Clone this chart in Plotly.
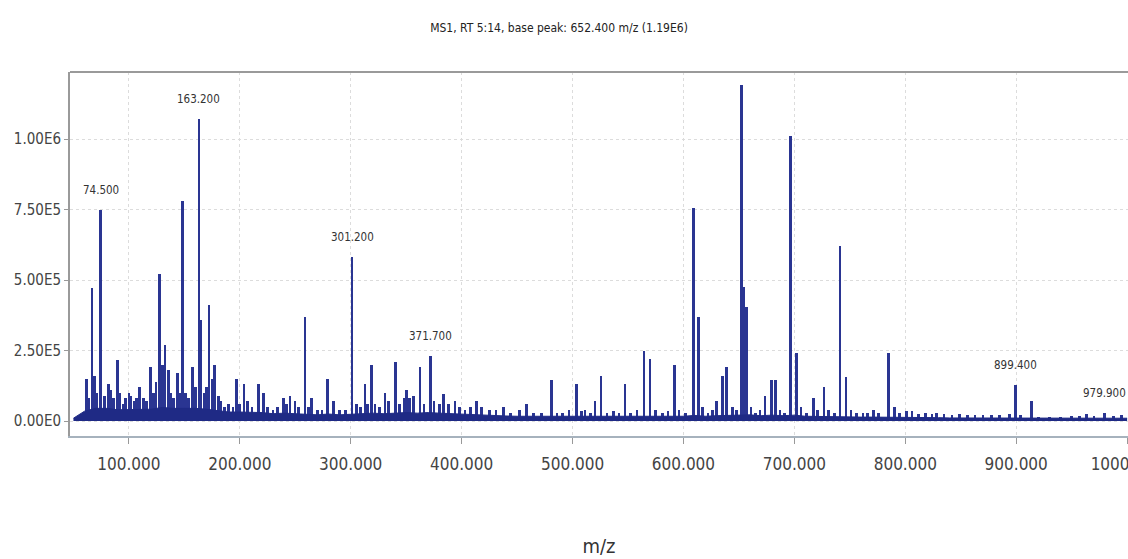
import plotly.graph_objects as go

# Centroided peaks of the MS1 scan (m/z, intensity)
peak_mz = [
    62.0, 64.0, 66.7, 69.0, 71.0, 74.5, 78.0, 81.4, 84.0, 86.0, 89.8, 92.0, 95.0, 97.0,
    100.0, 102.0, 105.0, 107.0, 109.3, 113.0, 116.0, 119.6, 122.0, 124.4, 127.4, 130.0,
    132.5, 135.5, 138.0, 140.0, 143.6, 146.0, 148.4, 151.0, 154.0, 157.5, 160.0, 163.2,
    165.0, 168.0, 170.0, 172.2, 175.0, 177.0, 180.6, 183.0, 186.0, 190.0, 194.0, 197.2,
    200.0, 203.7, 207.0, 211.0, 216.6, 221.1, 225.0, 230.0, 234.0, 239.2, 242.0, 245.2,
    249.7, 253.0, 258.7, 262.0, 264.8, 270.0, 274.0, 278.9, 284.3, 290.0, 295.0, 301.2,
    305.0, 309.0, 312.8, 315.0, 318.9, 322.0, 326.0, 330.9, 334.0, 340.5, 344.0, 348.0,
    350.4, 353.0, 356.4, 362.4, 366.0, 371.7, 375.0, 380.0, 383.4, 388.0, 394.0, 398.0,
    403.0, 408.0, 413.5, 418.0, 425.0, 431.0, 437.6, 444.0, 452.0, 458.6, 465.0, 472.0,
    481.2, 486.0, 491.0, 496.8, 503.7, 508.0, 511.2, 516.0, 520.2, 525.6, 531.0, 537.0,
    542.0, 547.3, 552.0, 558.0, 564.4, 569.8, 575.0, 581.0, 586.0, 591.8, 596.0, 602.0,
    608.9, 613.4, 617.0, 622.0, 626.0, 630.0, 635.4, 639.0, 644.0, 648.0, 652.4, 654.3,
    657.0, 661.0, 665.0, 669.0, 673.5, 679.6, 683.2, 687.0, 691.0, 696.7, 702.1, 706.0,
    711.0, 717.1, 721.0, 726.7, 731.0, 736.0, 741.2, 746.6, 751.0, 756.0, 762.0, 766.0,
    771.2, 776.0, 784.8, 790.0, 795.0, 801.3, 806.0, 812.0, 818.0, 824.0, 828.4, 835.0,
    842.0, 849.0, 856.0, 863.0, 870.0, 878.0, 885.0, 894.0, 899.4, 904.0, 914.0, 920.0,
    930.0, 940.0, 950.0, 957.0, 963.6, 970.0, 979.9, 988.0, 995.0,
]
peak_int = [
    150000, 80000, 470000, 160000, 100000, 750000, 90000, 130000, 110000, 80000, 216000, 100000, 60000, 80000,
    100000, 90000, 70000, 80000, 120000, 80000, 70000, 190000, 100000, 140000, 520000, 200000,
    270000, 180000, 100000, 80000, 170000, 100000, 780000, 100000, 80000, 190000, 120000, 1070000,
    360000, 100000, 120000, 410000, 150000, 200000, 90000, 70000, 50000, 60000, 50000, 150000,
    60000, 130000, 70000, 50000, 130000, 100000, 50000, 40000, 50000, 80000, 60000, 90000,
    70000, 50000, 370000, 50000, 80000, 40000, 40000, 150000, 70000, 40000, 40000, 580000,
    60000, 50000, 130000, 60000, 200000, 60000, 50000, 100000, 70000, 210000, 60000, 80000,
    110000, 80000, 90000, 190000, 60000, 230000, 70000, 60000, 95000, 60000, 70000, 50000,
    40000, 50000, 70000, 50000, 40000, 40000, 50000, 30000, 40000, 60000, 30000, 30000,
    145000, 30000, 30000, 40000, 130000, 35000, 40000, 30000, 70000, 160000, 30000, 35000,
    30000, 130000, 30000, 40000, 250000, 220000, 40000, 30000, 35000, 200000, 40000, 30000,
    755000, 370000, 50000, 30000, 40000, 70000, 160000, 190000, 50000, 40000, 1190000, 475000,
    405000, 50000, 30000, 40000, 90000, 145000, 145000, 40000, 30000, 1010000, 240000, 50000,
    30000, 80000, 40000, 120000, 40000, 30000, 620000, 157000, 40000, 30000, 30000, 30000,
    40000, 30000, 242000, 50000, 30000, 35000, 35000, 25000, 30000, 25000, 30000, 25000,
    20000, 25000, 20000, 20000, 20000, 20000, 20000, 25000, 128000, 20000, 70000, 15000,
    15000, 15000, 18000, 18000, 25000, 18000, 30000, 18000, 20000,
]

# Unresolved background level under the peaks
bg_mz = [
    50, 60, 70, 80, 90, 100, 110, 120, 130, 140, 150, 160, 170, 180, 190, 200, 210, 220,
    230, 240, 250, 260, 270, 280, 290, 300, 310, 320, 330, 340, 350, 360, 370, 380, 390,
    400, 410, 420, 430, 440, 450, 460, 470, 480, 490, 500, 510, 520, 530, 540, 550, 560,
    570, 580, 590, 600, 610, 620, 630, 640, 650, 660, 670, 680, 690, 700, 710, 720, 730,
    740, 750, 760, 770, 780, 790, 800, 810, 820, 830, 840, 850, 860, 870, 880, 890, 900,
    910, 920, 930, 940, 950, 960, 970, 980, 990, 1000,
]
bg_int = [
    10000, 35000, 45000, 45000, 40000, 40000, 40000, 42000, 48000, 45000, 45000, 45000,
    42000, 38000, 32000, 32000, 32000, 30000, 26000, 28000, 26000, 24000, 22000, 25000,
    22000, 24000, 26000, 28000, 26000, 28000, 30000, 28000, 30000, 28000, 26000, 24000,
    22000, 22000, 18000, 18000, 17000, 17000, 15000, 17000, 15000, 17000, 17000, 17000,
    15000, 15000, 15000, 17000, 17000, 17000, 17000, 17000, 20000, 17000, 19000, 20000,
    22000, 22000, 19000, 21000, 19000, 21000, 17000, 16000, 16000, 16000, 14000, 14000,
    14000, 14000, 14000, 13000, 12000, 12000, 12000, 11000, 11000, 11000, 10000, 10000,
    10000, 10000, 10000, 10000, 10000, 10000, 10000, 10000, 10000, 10000, 10000, 10000,
]

# Peaks that carry an m/z label
label_mz = [74.5, 163.2, 301.2, 371.7, 899.4, 979.9]
label_int = [750000, 1070000, 580000, 230000, 128000, 30000]
label_txt = ["74.500", "163.200", "301.200", "371.700", "899.400", "979.900"]

x_ticks = [100, 200, 300, 400, 500, 600, 700, 800, 900, 1000]
x_tick_txt = ["100.000", "200.000", "300.000", "400.000", "500.000",
              "600.000", "700.000", "800.000", "900.000", "1000.000"]
y_ticks = [0, 250000, 500000, 750000, 1000000]
y_tick_txt = ["0.00E0", "2.50E5", "5.00E5", "7.50E5", "1.00E6"]

NARROW = "Liberation Sans Narrow, Arial Narrow, DejaVu Sans Condensed, Liberation Sans, sans-serif"
BLUE = "#2a3592"

fig = go.Figure()
fig.add_trace(go.Scatter(
    x=bg_mz, y=bg_int, mode="lines", fill="tozeroy",
    line=dict(color="#1f2a85", width=1), fillcolor="#1f2a85",
    hoverinfo="skip", showlegend=False,
))
fig.add_trace(go.Bar(
    x=peak_mz, y=peak_int, width=2.4,
    marker=dict(color=BLUE, line=dict(width=0)),
    showlegend=False,
))

for mz, inten, txt in zip(label_mz, label_int, label_txt):
    fig.add_annotation(
        x=mz, y=inten, text=txt, showarrow=False,
        yanchor="middle", yshift=20,
        font=dict(family=NARROW, size=11.5, color="#333333"),
    )

fig.update_layout(
    width=1128, height=559,
    margin=dict(l=70, r=0, t=72, b=123),
    paper_bgcolor="white", plot_bgcolor="white",
    bargap=0,
    title=dict(
        text="MS1, RT 5:14, base peak: 652.400 m/z (1.19E6)",
        x=0.4956, xref="container", xanchor="center",
        y=1 - 28 / 559, yref="container", yanchor="middle",
        font=dict(family=NARROW, size=12, color="#222222"),
    ),
    xaxis=dict(
        range=[46.9, 1000.8],
        tickvals=x_ticks, ticktext=x_tick_txt,
        tickfont=dict(family=NARROW, size=17, color="#444444"),
        ticks="outside", ticklen=6, tickcolor="#999999",
        ticklabelstandoff=6, ticklabeloverflow="allow",
        showline=True, linecolor="#a6b2bd", linewidth=2,
        showgrid=True, gridcolor="#dcdcdc", griddash="dot", gridwidth=1,
        zeroline=False,
        title=dict(text="m/z", standoff=66,
                   font=dict(family=NARROW, size=20, color="#333333")),
        automargin=False,
    ),
    yaxis=dict(
        range=[-53000, 1237600],
        tickvals=y_ticks, ticktext=y_tick_txt,
        tickfont=dict(family=NARROW, size=15, color="#444444"),
        ticks="outside", ticklen=4, tickcolor="#999999",
        showline=True, linecolor="#9a9a9a", linewidth=2,
        showgrid=True, gridcolor="#dcdcdc", griddash="dot", gridwidth=1,
        zeroline=False, automargin=False,
    ),
    shapes=[dict(type="line", xref="paper", yref="paper", x0=0, x1=1, y0=1, y1=1,
                 line=dict(color="#9a9a9a", width=2))],
)

fig.write_html("out.html")
